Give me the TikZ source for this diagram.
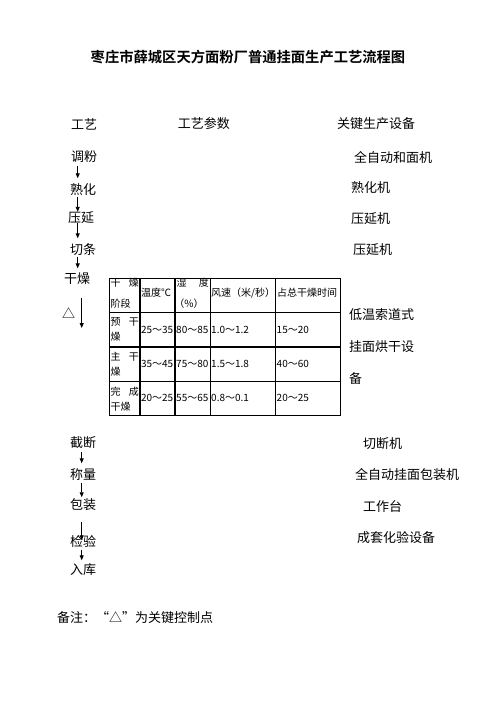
\documentclass[tikz,border=0pt]{standalone}
\usepackage{fontspec}
\usetikzlibrary{arrows.meta}
\newfontfamily\cjk{Noto Sans CJK SC}
\newfontfamily\cjkb{Noto Sans CJK SC Bold}
\begin{document}
\begin{tikzpicture}[x=1pt,y=-1pt,
  lbl/.style={anchor=west,inner sep=0pt,font=\cjk\fontsize{13}{15}\selectfont},
  tcell/.style={anchor=west,inner sep=0pt,font=\cjk\fontsize{10}{12}\selectfont},
  tcellE/.style={anchor=east,inner sep=0pt,font=\cjk\fontsize{10}{12}\selectfont},
  tcellC/.style={anchor=center,inner sep=0pt,font=\cjk\fontsize{10}{12}\selectfont},
  arr/.style={line width=0.9pt,-{Triangle[length=5pt,width=4pt]}},
  thin/.style={line width=0.8pt},
  thick/.style={line width=1.8pt}]
\useasboundingbox[fill=white] (0,0) rectangle (496,702);
% title
\node[inner sep=0pt,font=\cjkb\fontsize{14.3}{16}\selectfont] (title) at (248,57) {枣庄市薛城区天方面粉厂普通挂面生产工艺流程图};
% headers
\node[lbl] (h1) at (71,124) {工艺};
\node[lbl] (h2) at (177.7,124) {工艺参数};
\node[lbl] (h3) at (337,124) {关键生产设备};
% left column
\node[lbl] (tf) at (71,157) {调粉};
\node[lbl] (sh) at (70,190) {熟化};
\node[lbl] (yy) at (68,218) {压延};
\node[lbl] (qt) at (70,250) {切条};
\node[lbl] (gz) at (64,279) {干燥};
\node[inner sep=0pt,font=\cjk\fontsize{13}{15}\selectfont] (tri) at (68.5,313) {△};
\node[lbl] (jd) at (70,443) {截断};
\node[lbl] (cl) at (70,475) {称量};
\node[lbl] (bz) at (70,505) {包装};
\node[lbl] (jy) at (70,542) {检验};
\node[lbl] (rk) at (70,570) {入库};
% right column
\node[lbl] (e1) at (354,157) {全自动和面机};
\node[lbl] (e2) at (351,188) {熟化机};
\node[lbl] (e3) at (351,219) {压延机};
\node[lbl] (e4) at (353,250) {压延机};
\node[lbl] (e5a) at (349,315) {低温索道式};
\node[lbl] (e5b) at (349,347) {挂面烘干设};
\node[lbl] (e5c) at (349,379) {备};
\node[lbl] (e6) at (363,444) {切断机};
\node[lbl] (e7) at (355,475) {全自动挂面包装机};
\node[lbl] (e8) at (363,507) {工作台};
\node[lbl] (e9) at (357,538) {成套化验设备};
\node[lbl] (note) at (57,618) {备注：“△”为关键控制点};
% arrows
\coordinate (ax1) at (77.7,0);
\coordinate (ax2) at (81.7,0);
\coordinate (gzend) at (81.7,328);
\draw[arr,shorten <=2.5pt,shorten >=5.5pt] (tf.south -| ax1) -- (sh.north -| ax1);
\draw[arr,shorten <=0.5pt,shorten >=0pt] (sh.south -| ax1) -- (yy.north -| ax1);
\draw[arr,shorten <=-1.5pt,shorten >=5.5pt] (yy.south -| ax1) -- (qt.north -| ax1);
\draw[arr,shorten <=0.5pt,shorten >=4.5pt] (qt.south -| ax1) -- (gz.north -| ax1);
\draw[arr,shorten <=12.5pt] (gz.south -| ax2) -- (gzend);
\draw[arr,shorten <=2.5pt,shorten >=5.5pt] (jd.south -| ax2) -- (cl.north -| ax2);
\draw[arr,shorten <=1.5pt,shorten >=1.5pt] (cl.south -| ax2) -- (bz.north -| ax2);
\draw[arr,shorten <=10.5pt,shorten >=-4.5pt] (bz.south -| ax2) -- (jy.north -| ax2);
\draw[arr,shorten <=1.5pt,shorten >=3.5pt] (jy.south -| ax2) -- (rk.north -| ax2);
% table lines
\draw[thin] (109.3,278.3) rectangle (340,415);
\draw[thin] (109.3,312.3) -- (340,312.3);
\draw[thin] (109.3,381.7) -- (340,381.7);
\draw[thick] (109.3,346.7) -- (340,346.7);
\draw[thick] (140,278.3) -- (140,415);
\draw[thick] (175,278.3) -- (175,415);
\draw[thin] (210,278.3) -- (210,415);
\draw[thin] (275.3,278.3) -- (275.3,415);
% header row
\node[tcell] (c11a) at (110.5,283) {干};
\node[tcellE] (c11b) at (139,283) {燥};
\node[tcell] (c11c) at (110.5,304) {阶段};
\node[tcell] (c12) at (141,293) {温度℃};
\node[tcell] (c13a) at (176.5,283) {湿};
\node[tcellE] (c13b) at (209,283) {度};
\node[tcellC] (c13c) at (189,304) {（\%）};
\node[tcell] (c14) at (211,293) {风速（米/秒）};
\node[tcell] (c15) at (277,293) {占总干燥时间};
% row 2
\node[tcell] (c21a) at (110.5,321.7) {预};
\node[tcellE] (c21b) at (139,321.7) {干};
\node[tcell] (c21c) at (110.5,336.7) {燥};
\node[tcell] (c22) at (140.8,329.5) {25～35};
\node[tcell] (c23) at (176,329.5) {80～85};
\node[tcell] (c24) at (211,329.5) {1.0～1.2};
\node[tcell] (c25) at (276.5,329.5) {15～20};
% row 3
\node[tcell] (c31a) at (110.5,356.7) {主};
\node[tcellE] (c31b) at (139,356.7) {干};
\node[tcell] (c31c) at (110.5,371.7) {燥};
\node[tcell] (c32) at (140.8,364.2) {35～45};
\node[tcell] (c33) at (176,364.2) {75～80};
\node[tcell] (c34) at (211,364.2) {1.5～1.8};
\node[tcell] (c35) at (276.5,364.2) {40～60};
% row 4
\node[tcell] (c41a) at (110.5,392) {完};
\node[tcellE] (c41b) at (139,392) {成};
\node[tcell] (c41c) at (110.5,406.7) {干燥};
\node[tcell] (c42) at (140.8,398.3) {20～25};
\node[tcell] (c43) at (176,398.3) {55～65};
\node[tcell] (c44) at (211,398.3) {0.8～0.1};
\node[tcell] (c45) at (276.5,398.3) {20～25};
\end{tikzpicture}
\end{document}
